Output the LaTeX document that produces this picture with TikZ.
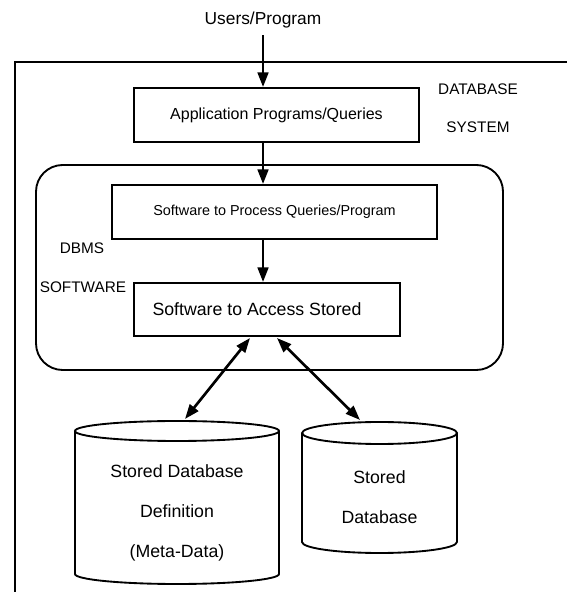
\documentclass[tikz,border=0pt]{standalone}
\usepackage{fontspec}
\setmainfont{Liberation Sans}
\usetikzlibrary{arrows.meta}
\newcommand{\dbarw}{-{Triangle[length=11pt,width=8pt]}}
\newcommand{\dbdarw}{{Triangle[length=11pt,width=8pt]}-{Triangle[length=11pt,width=8pt]}}
\newcommand{\fs}[1]{\fontsize{#1}{#1}\selectfont}

\begin{document}
\begin{tikzpicture}[x=.75pt,y=.75pt,
  box/.style={draw,line width=1.4pt,inner sep=0pt},
  conn/.style={line width=2pt},
  lbl/.style={inner sep=0pt,font=\fs{11.5}}]
\useasboundingbox (0,0) rectangle (567,592);
\clip (0,0) rectangle (567,592);
%database system frame
\draw[line width=1.2pt] (15,-10) -- (15,530) -- (580,530);
\node[lbl] (dbase) at (478,503) {DATABASE};
\node[lbl] (dsys) at (478,465) {SYSTEM};
%users and application layer
\node[inner sep=0pt,font=\fs{13}] (users) at (263,572) {Users/Program};
\node[box,minimum width=213.75pt,minimum height=40.5pt,font=\fs{12}] (app) at (276.5,477) {Application Programs/Queries};
\draw[conn,\dbarw,shorten <=5pt] (users.south) -- (users.south |- app.north);
%dbms software
\draw[line width=1.4pt,rounded corners=20pt] (36,222) rectangle (503,427);
\node[lbl] (dbms) at (82,344) {DBMS};
\node[lbl] (dsoft) at (83,305) {SOFTWARE};
\node[box,minimum width=243.75pt,minimum height=40.5pt,font=\fs{10.8}] (proc) at (274.5,380) {Software to Process Queries/Program};
\node[box,minimum width=199.5pt,minimum height=39.75pt,font=\fs{13.3}] (access) at (267,282.5) {Software to Access Stored\hspace*{15pt}};
\draw[conn,\dbarw] (users.south |- app.south) -- (users.south |- proc.north);
\draw[conn,\dbarw] (users.south |- proc.south) -- (users.south |- access.north);
%stored data
\draw[line width=1.4pt] (75,161) -- (75,18) arc[start angle=180,end angle=360,x radius=76.5pt,y radius=7.5pt]
  -- (279,161) arc[start angle=0,end angle=360,x radius=76.5pt,y radius=7.5pt];
\draw[line width=1.4pt] (302,159) -- (302,50) arc[start angle=180,end angle=360,x radius=58.1pt,y radius=8.25pt]
  -- (457,159) arc[start angle=0,end angle=360,x radius=58.1pt,y radius=8.25pt];
\node[align=center,font=\fontsize{13.3}{30}\selectfont] (meta) at (177,79) {Stored Database\\Definition\\(Meta-Data)};
\node[align=center,font=\fontsize{13.3}{30}\selectfont] (stored) at (379.5,94.5) {Stored\\Database};
\coordinate (metatop) at (185,173);
\coordinate (storedtop) at (360,172);
\coordinate (accl) at (250,254);
\coordinate (accr) at (277,254);
\draw[conn,\dbdarw] (accl) -- (metatop);
\draw[conn,\dbdarw] (accr) -- (storedtop);
\end{tikzpicture}
\end{document}
